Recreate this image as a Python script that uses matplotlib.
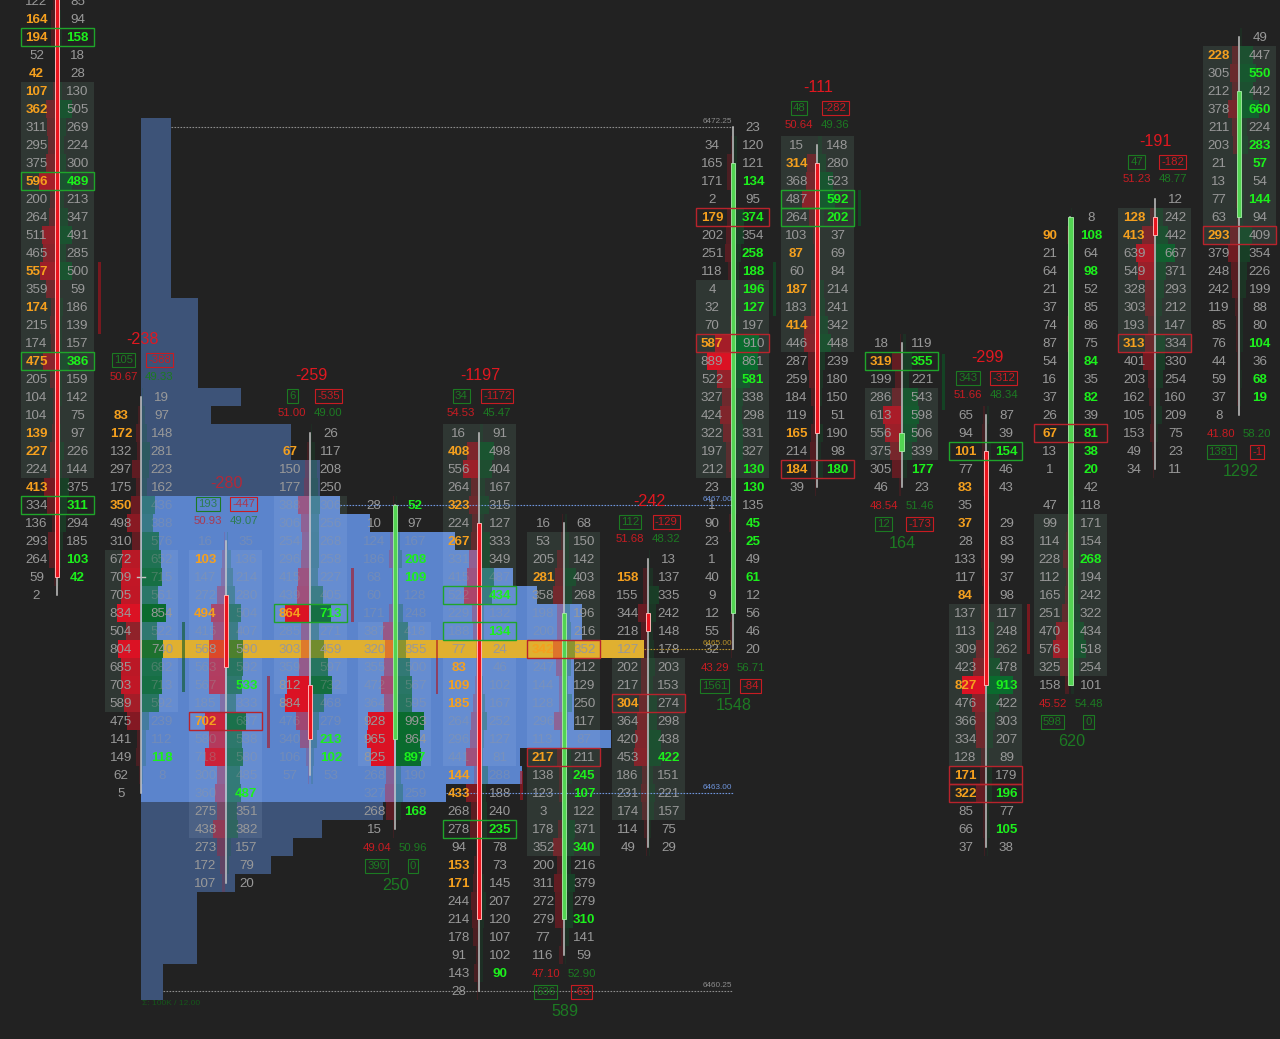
import matplotlib
matplotlib.use("Agg")
import matplotlib.pyplot as plt
from matplotlib.patches import Rectangle

plt.rcParams["font.family"] = ["Liberation Sans", "DejaVu Sans"]

# footprint columns: bid / ask volume per price row, first_row = row of the first line
c1_bid = [122, 164, 194, 52, 42, 107, 362, 311, 295, 375, 596, 200, 264, 511, 465, 557, 359, 174, 215, 174, 475, 205, 104, 104, 139, 227, 224, 413, 334, 136, 293, 264, 59, 2]
c1_ask = [85, 94, 158, 18, 28, 130, 505, 269, 224, 300, 489, 213, 347, 491, 285, 500, 59, 186, 139, 157, 386, 159, 142, 75, 97, 226, 144, 375, 311, 294, 185, 103, 42, None]
c2_bid = [None, 83, 172, 132, 297, 175, 350, 498, 310, 672, 709, 705, 834, 504, 804, 685, 703, 589, 475, 141, 149, 62, 5]
c2_ask = [19, 97, 148, 281, 223, 162, 436, 388, 576, 652, 715, 561, 854, 522, 740, 682, 713, 592, 239, 112, 118, 8, None]
c3_bid = [16, 103, 147, 272, 494, 415, 568, 563, 567, 185, 702, 580, 718, 300, 360, 275, 438, 273, 172, 107]
c3_ask = [35, 136, 214, 280, 504, 407, 590, 592, 533, 333, 687, 538, 580, 485, 487, 351, 382, 157, 79, 20]
c4_bid = [None, 67, 150, 177, 388, 306, 254, 296, 415, 439, 864, 285, 303, 359, 812, 884, 476, 340, 106, 57]
c4_ask = [26, 117, 208, 250, 306, 256, 268, 258, 227, 405, 713, 271, 459, 597, 732, 468, 279, 213, 102, 53]
c5_bid = [28, 10, 124, 186, 68, 60, 171, 387, 320, 355, 472, 364, 928, 965, 825, 268, 327, 268, 15]
c5_ask = [52, 97, 167, 208, 109, 128, 248, 418, 355, 500, 567, 595, 993, 864, 897, 190, 259, 168, None]
c6_bid = [16, 408, 556, 264, 323, 224, 267, 331, 415, 522, 229, 188, 77, 83, 109, 185, 264, 296, 441, 144, 433, 268, 278, 94, 153, 171, 244, 214, 178, 91, 143, 28]
c6_ask = [91, 498, 404, 167, 315, 127, 333, 349, 487, 434, 132, 134, 24, 46, 102, 167, 252, 127, 81, 288, 188, 240, 235, 78, 73, 145, 207, 120, 107, 102, 90, None]
c7_bid = [16, 53, 205, 281, 358, 198, 200, 342, 247, 144, 128, 296, 113, 217, 138, 123, 3, 178, 352, 200, 311, 272, 279, 77, 116]
c7_ask = [68, 150, 142, 403, 268, 196, 216, 352, 212, 129, 250, 117, 87, 211, 245, 107, 122, 371, 340, 216, 379, 279, 310, 141, 59]
c8_bid = [None, 158, 155, 344, 218, 127, 202, 217, 304, 364, 420, 453, 186, 231, 174, 114, 49]
c8_ask = [13, 137, 335, 242, 148, 178, 203, 153, 274, 298, 438, 422, 151, 221, 157, 75, 29]
c9_bid = [None, 34, 165, 171, 2, 179, 202, 251, 118, 4, 32, 70, 587, 889, 522, 327, 424, 322, 197, 212, 23, 1, 90, 23, 1, 40, 9, 12, 55, 32]
c9_ask = [23, 120, 121, 134, 95, 374, 354, 258, 188, 196, 127, 197, 910, 861, 581, 338, 298, 331, 327, 130, 130, 135, 45, 25, 49, 61, 12, 56, 46, 20]
c10_bid = [15, 314, 368, 487, 264, 103, 87, 60, 187, 183, 414, 446, 287, 259, 184, 119, 165, 214, 184, 39]
c10_ask = [148, 280, 523, 592, 202, 37, 69, 84, 214, 241, 342, 448, 239, 180, 150, 51, 190, 98, 180, None]
c11_bid = [18, 319, 199, 286, 613, 556, 375, 305, 46]
c11_ask = [119, 355, 221, 543, 598, 506, 339, 177, 23]
c12_bid = [65, 94, 101, 77, 83, 35, 37, 28, 133, 117, 84, 137, 113, 309, 423, 827, 476, 366, 334, 128, 171, 322, 85, 66, 37]
c12_ask = [87, 39, 154, 46, 43, None, 29, 83, 99, 37, 98, 117, 248, 262, 478, 913, 422, 303, 207, 89, 179, 196, 77, 105, 38]
c13_bid = [None, 90, 21, 64, 21, 37, 74, 87, 54, 16, 37, 26, 67, 13, 1, None, 47, 99, 114, 228, 112, 165, 251, 470, 576, 325, 158]
c13_ask = [8, 108, 64, 98, 52, 85, 86, 75, 84, 35, 82, 39, 81, 38, 20, 42, 118, 171, 154, 268, 194, 242, 322, 434, 518, 254, 101]
c14_bid = [None, 128, 413, 639, 549, 328, 303, 193, 313, 401, 203, 162, 105, 153, 49, 34]
c14_ask = [12, 242, 442, 667, 371, 293, 212, 147, 334, 330, 254, 160, 209, 75, 23, 11]
c15_bid = [None, 228, 305, 212, 378, 211, 203, 21, 13, 77, 63, 293, 379, 248, 242, 119, 85, 76, 44, 59, 37, 8]
c15_ask = [49, 447, 550, 442, 660, 224, 283, 57, 54, 144, 94, 409, 354, 226, 199, 88, 80, 104, 36, 68, 19, None]

bids = [c1_bid, c2_bid, c3_bid, c4_bid, c5_bid, c6_bid, c7_bid, c8_bid, c9_bid, c10_bid, c11_bid, c12_bid, c13_bid, c14_bid, c15_bid]
asks = [c1_ask, c2_ask, c3_ask, c4_ask, c5_ask, c6_ask, c7_ask, c8_ask, c9_ask, c10_ask, c11_ask, c12_ask, c13_ask, c14_ask, c15_ask]
first_rows = [0, 22, 30, 24, 28, 24, 29, 31, 7, 8, 19, 23, 12, 11, 2]

# candles in price rows: body top, body bottom, wick top, wick bottom
body_top = [-1, 32, 33, 38, 28, 29, 34, 34, 9, 9, 24, 25, 12, 12, 5]
body_bot = [32, 32, 37, 41, 41, 51, 51, 35, 34, 24, 25, 38, 38, 13, 12]
wick_top = [-1, 22, 30, 24, 28, 24, 29, 31, 7, 8, 19, 23, 12, 11, 2]
wick_bot = [33, 44, 49, 43, 46, 55, 53, 47, 36, 27, 27, 47, 38, 26, 23]
body_up = [False, False, False, False, True, False, True, False, True, False, True, False, True, False, True]

# bar statistics
delta = [None, -238, -280, -259, 250, -1197, 589, -242, 1548, -111, 164, -299, 620, -191, 1292]
box_left = [None, 105, 193, 6, 390, 34, 636, 112, 1561, 48, 12, 343, 598, 47, 1381]
box_right = [None, -388, -447, -535, 0, -1172, -63, -129, -84, -282, -173, -312, 0, -182, -1]
pct_bid = [None, 50.67, 50.93, 51.00, 49.04, 54.53, 47.10, 51.68, 43.29, 50.64, 48.54, 51.66, 45.52, 51.23, 41.80]
pct_ask = [None, 49.33, 49.07, 49.00, 50.96, 45.47, 52.90, 48.32, 56.71, 49.36, 51.46, 48.34, 54.48, 48.77, 58.20]

# volume profile, rows 7 to 55
profile_first = 7
profile_vol = [30, 30, 30, 30, 30, 30, 30, 30, 30, 30, 57, 57, 57, 57, 57, 100, 70, 150, 150, 179, 179, 199, 229, 314, 339, 372, 396, 441, 441, 503, 433, 433, 433, 433, 470, 379, 381, 305, 242, 181, 152, 130, 94, 56, 56, 56, 56, 22, 22]
va_top, va_bot, poc_row = 28, 44, 36

price_labels = ["6472.25", "6467.00", "6465.00", "6463.00", "6460.25"]
price_rows = [7, 28, 36, 44, 55]
price_colors = ["#8c8c8c", "#6f95dd", "#b8922a", "#6f95dd", "#8c8c8c"]

# highlighted numbers, by row
hot_bid = [[1, 2, 4, 5, 6, 10, 15, 17, 20, 24, 25, 27], [23, 24, 28], [31, 34, 40], [25, 34], [], [25, 28, 30, 37, 38, 39, 43, 44, 48, 49], [32, 36, 42], [32, 39], [12, 19], [9, 14, 16, 18, 24, 26], [20], [25, 27, 29, 33, 38, 43, 44], [13, 24], [12, 13, 19], [3, 13]]
hot_ask = [[2, 10, 20, 28, 31, 32], [42], [38, 44], [34, 41, 42], [28, 31, 32, 42, 45], [33, 35, 46, 54], [43, 44, 47, 51], [42], [10, 12, 14, 15, 16, 17, 21, 26, 27, 29, 30, 32], [11, 12, 26], [20, 26], [25, 38, 44, 46], [13, 15, 20, 22, 24, 25, 26, 31], [], [4, 6, 8, 9, 11, 19, 21, 22]]

# shaded rows per column (from, to) and framed cells
shade_from = [5, 31, 31, 28, 35, 24, 30, 37, 16, 8, 22, 34, 29, 12, 3]
shade_to = [26, 39, 46, 38, 42, 42, 47, 45, 26, 19, 25, 42, 37, 19, 13]
green_boxes = [[2, 10, 20, 28], [], [], [34], [], [33, 35, 46], [], [], [], [11, 12], [20], [25], [], [], []]
red_boxes = [[], [], [40], [], [], [], [36, 42], [39], [12, 19], [26], [], [43, 44], [24], [19], [13]]

# small delta strips between the columns: gap index, row from, row to
strip_gap = [0, 1, 2, 3, 4, 5, 8, 9, 10, 11]
strip_from = [14.5, 34.5, 37.5, 31.5, 35.5, 42.8, 14.5, 10.5, 19.6, 33.5]
strip_to = [18.5, 38.4, 41.5, 34.5, 38.5, 44.4, 17.5, 12.5, 22.7, 36.3]
strip_up = [False, True, False, False, False, False, True, True, True, False]

BG = "#222222"
RED = (0.86, 0.07, 0.14)
GREEN = (0.04, 0.42, 0.18)
HDR_RED = "#c81c22"
HDR_GREEN = "#1c7a22"
X0 = 57
STEP = 84.45
GAP = 20.5
VOL_PX = 0.028
TXT = 0.06  # digits sit a touch under the row centre
PROFILE_LEFT = 141


def bar_alpha(v):
    return min(1.0, 0.14 + 0.86 * (v / 800) ** 1.5)


def profile_edge(r):
    if profile_first <= r < profile_first + len(profile_vol):
        return PROFILE_LEFT + profile_vol[r - profile_first]
    return 0


def grey_alpha(r, x, v):
    # small numbers almost vanish on the light part of the profile
    if va_top <= r <= va_bot and r != poc_row and PROFILE_LEFT < x < profile_edge(r) and v < 800:
        return 0.38
    return 1.0


fig = plt.figure(figsize=(12.8, 10.39), dpi=100, facecolor=BG)
ax = fig.add_axes([0, 0, 1, 1])
ax.set_facecolor(BG)
ax.set_xlim(0, 1280)
ax.set_ylim(1038 / 18, -1 / 18)
ax.axis("off")

# profile
rows = [profile_first + i for i in range(len(profile_vol))]
cols = ["#5b84cc" if va_top <= r <= va_bot else "#3d5378" for r in rows]
ax.barh(rows, profile_vol, left=PROFILE_LEFT, height=1, color=cols, zorder=1)
ax.barh([poc_row], [profile_vol[poc_row - profile_first]], left=PROFILE_LEFT, height=1, color="#e0b030", zorder=2.5)

for i in range(15):
    xc = X0 + STEP * i
    # value area shade, greenish on the dark background, lighter on the profile
    ax.add_patch(Rectangle((xc - 36.5, shade_from[i] - 0.5), 73, shade_to[i] - shade_from[i] + 1,
                           facecolor=(0.45, 0.65, 0.55, 0.16), edgecolor="none", zorder=0.5))
    for r in range(shade_from[i], shade_to[i] + 1):
        left = max(xc - 36.5, PROFILE_LEFT)
        right = min(xc + 36.5, profile_edge(r))
        if right > left:
            ax.barh(r, right - left, left=left, height=1, color=(0.8, 0.88, 1.0), alpha=0.1, zorder=2)
    for j, (b, a) in enumerate(zip(bids[i], asks[i])):
        r = first_rows[i] + j
        # histogram behind the numbers
        if b is not None:
            ax.barh(r, -b * VOL_PX, left=xc - 1, height=1, color=RED, alpha=bar_alpha(b), zorder=3)
            hot = r in hot_bid[i]
            ax.text(xc - GAP, r + TXT, str(b), ha="center", va="center", fontsize=9.6,
                    color="#f5a01e" if hot else "#999999", fontweight="bold" if hot else "normal",
                    alpha=1.0 if hot else grey_alpha(r, xc - GAP, b), zorder=6 if hot else 4)
        if a is not None:
            ax.barh(r, a * VOL_PX, left=xc + 1, height=1, color=GREEN, alpha=bar_alpha(a), zorder=3)
            hot = r in hot_ask[i]
            ax.text(xc + GAP, r + TXT, str(a), ha="center", va="center", fontsize=9.6,
                    color="#1cf01c" if hot else "#999999", fontweight="bold" if hot else "normal",
                    alpha=1.0 if hot else grey_alpha(r, xc + GAP, a), zorder=6 if hot else 4)
    for r in green_boxes[i]:
        ax.add_patch(Rectangle((xc - 36.5, r - 0.5), 73, 1, fill=False, edgecolor="#1fa52a", lw=1.0, zorder=6))
    for r in red_boxes[i]:
        ax.add_patch(Rectangle((xc - 36.5, r - 0.5), 73, 1, fill=False, edgecolor="#b8232c", lw=1.0, zorder=6))

    # candle
    ax.plot([xc, xc], [wick_top[i], wick_bot[i]], color="#c4c4c4", lw=1.1, zorder=5)
    if body_top[i] == body_bot[i]:
        ax.plot([xc - 4, xc + 4], [body_top[i], body_top[i]], color="#c4c4c4", lw=1.0, zorder=5)
    elif body_up[i]:
        ax.bar(xc, body_bot[i] - body_top[i], bottom=body_top[i], width=4.2, color="#52d452", edgecolor="#a8f0a8", lw=0.6, zorder=5)
    else:
        ax.bar(xc, body_bot[i] - body_top[i], bottom=body_top[i], width=4.2, color="#ea141e", edgecolor="#ffb4b4", lw=0.7, zorder=5)

    # stats above or below the column
    if delta[i] is None:
        continue
    if delta[i] < 0:
        r0 = first_rows[i]
        ypct, ybox, ydelta = r0 - 1.1, r0 - 2.05, r0 - 3.2
    else:
        r0 = first_rows[i] + len(bids[i]) - 1
        ypct, ybox, ydelta = r0 + 1.05, r0 + 2.05, r0 + 3.15
    hdr_alpha = 0.72 if va_top <= r0 <= va_bot and xc < profile_edge(r0) else 1.0
    ax.text(xc + 1, ydelta, str(delta[i]), ha="center", va="center", fontsize=11.6,
            color="#e01820" if delta[i] < 0 else HDR_GREEN, alpha=hdr_alpha, zorder=7)
    ax.text(xc - 18, ypct, "%.2f" % pct_bid[i], ha="center", va="center", fontsize=8.2, color=HDR_RED, alpha=hdr_alpha, zorder=7)
    ax.text(xc + 18, ypct, "%.2f" % pct_ask[i], ha="center", va="center", fontsize=8.2, color=HDR_GREEN, alpha=hdr_alpha, zorder=7)
    ax.text(xc - 18, ybox, str(box_left[i]), ha="center", va="center", fontsize=8.2, color=HDR_GREEN, alpha=hdr_alpha, zorder=7,
            bbox=dict(boxstyle="square,pad=0.18", fc="none", ec=HDR_GREEN, lw=0.8))
    rc = HDR_RED if box_right[i] < 0 else HDR_GREEN
    ax.text(xc + 18, ybox, str(box_right[i]), ha="center", va="center", fontsize=8.2, color=rc, alpha=hdr_alpha, zorder=7,
            bbox=dict(boxstyle="square,pad=0.18", fc="none", ec=rc, lw=0.8))

for g, r1, r2, up in zip(strip_gap, strip_from, strip_to, strip_up):
    x = X0 + STEP * (g + 0.5)
    ax.bar(x, r2 - r1, bottom=r1, width=2.8, color="#0c5a26" if up else "#b0141e", alpha=0.6, zorder=3)

# key price levels
for lab, r, c in zip(price_labels, price_rows, price_colors):
    x_start = profile_edge(r)
    ax.plot([x_start, 733], [r, r], color=c, lw=0.8, ls=(0, (1.5, 1.2)), zorder=4)
    ax.text(732, r - 0.33, lab, ha="right", va="center", fontsize=5.9, color=c, zorder=7)

ax.text(142, 55.7, "Σ: 100K / 12.00", ha="left", va="center", fontsize=6.0, color="#15561a", zorder=7)

fig.savefig("out.png", dpi=100, facecolor=BG)
